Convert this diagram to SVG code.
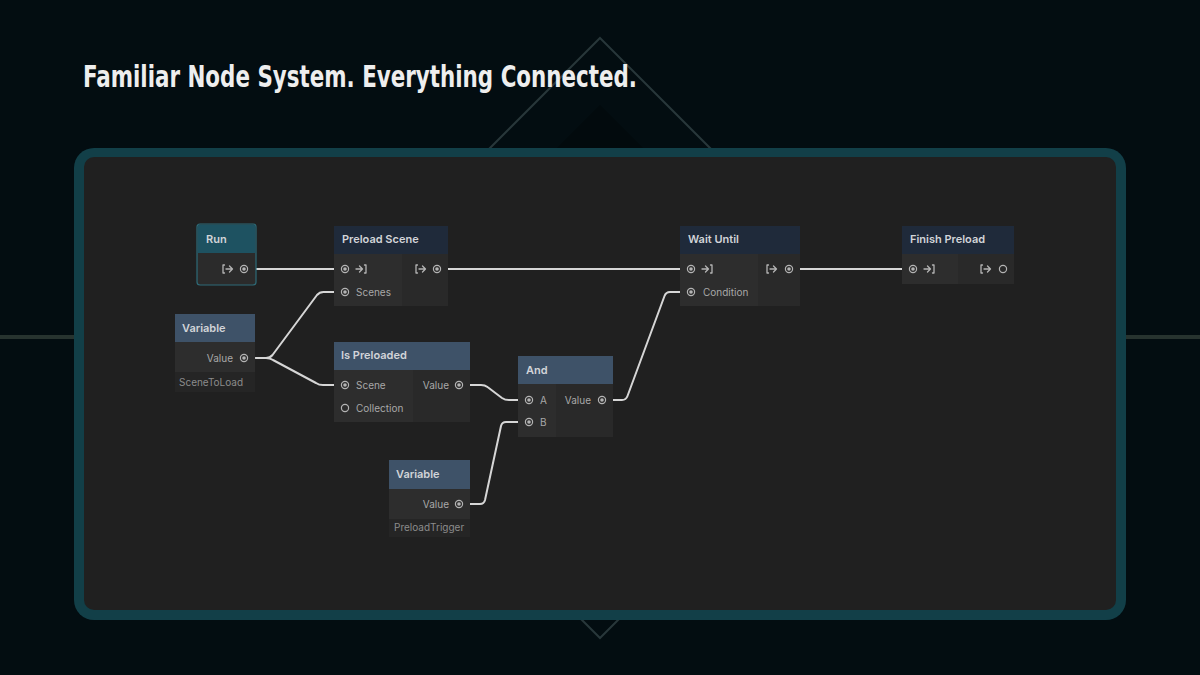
<svg xmlns="http://www.w3.org/2000/svg" xmlns:xlink="http://www.w3.org/1999/xlink" width="1200" height="675" viewBox="0 0 1200 675">
<style>
.title{font-family:"Liberation Sans Narrow","DejaVu Sans Condensed","Liberation Sans",sans-serif;font-weight:700;font-size:31px;fill:#eeeeee}
.hdr{font-family:Inter,"Noto Sans","Liberation Sans",sans-serif;font-weight:600;font-size:11px;fill:#d2d4d8}
.lbl{font-family:Inter,"Noto Sans","Liberation Sans",sans-serif;font-size:10px;fill:#a8a8a8}
.foot{font-family:Inter,"Noto Sans","Liberation Sans",sans-serif;font-size:10px;fill:#8c8c8c}
.end{text-anchor:end}
.navy{fill:#1f2a3a}
.steel{fill:#3e5268}
.colL{fill:#2d2d2d}
.colR{fill:#292929}
.footbg{fill:#252525}
.edge{fill:none;stroke:#d6d6d6;stroke-width:2;stroke-linecap:round;stroke-linejoin:round}
.ico{fill:none;stroke:#b4b4b4;stroke-width:1.3;stroke-linecap:round;stroke-linejoin:round}
</style>
<defs>
<g id="pin"><circle r="3.6" fill="none" stroke="#b4b4b4" stroke-width="1.2"/><circle r="1.8" fill="#b4b4b4"/></g>
<g id="pinHollow"><circle r="3.6" fill="none" stroke="#b4b4b4" stroke-width="1.2"/></g>
<g id="enter"><path class="ico" d="M-5 0H1.5M-1.5-3L1.5 0L-1.5 3M3.5-4H5V4H3.5"/></g>
<g id="exit"><path class="ico" d="M-3.5-4H-5V4H-3.5M-2 0H4.5M1.5-3L4.5 0L1.5 3"/></g>
</defs>

<!-- background -->
<rect width="1200" height="675" fill="#030d11"/>
<polygon points="600,105 833,338 600,571 367,338" fill="#020a0d"/>
<polygon points="600,38 900,338 600,638 300,338" fill="none" stroke="#28373a" stroke-width="2"/>
<rect x="0" y="335" width="1200" height="4" fill="#27332f"/>

<text class="title" x="83" y="87" textLength="554" lengthAdjust="spacingAndGlyphs">Familiar Node System. Everything Connected.</text>

<!-- panel -->
<rect x="74" y="148" width="1052" height="472" rx="20" fill="#123f48"/>
<rect x="84" y="157" width="1032" height="453" rx="10" fill="#202020"/>

<!-- connectors -->
<g id="connectors">
<path class="edge" d="M256 269H334"/>
<path class="edge" d="M448 269H680"/>
<path class="edge" d="M800 269H902"/>
<path class="edge" d="M256 358H266Q270 358 272.5 355L317 295Q319.5 292 323.5 292H334"/>
<path class="edge" d="M256 358H266Q270 358 273 360L316 383Q319 385 323 385H334"/>
<path class="edge" d="M470 385H481Q485 385 487.5 387L502 398Q505 400 509 400H518"/>
<path class="edge" d="M470 504H480Q484 504 485 500L501 426Q502 422 506 422H518"/>
<path class="edge" d="M613 400H622Q626 400 627.5 396L664.5 296Q666 292 670 292H680"/>
</g>

<!-- Run -->
<g id="node-run">
<rect x="197" y="224" width="59" height="61" rx="3" fill="#2b2b2b" stroke="#2e6b78" stroke-width="1.2"/>
<path d="M197.6 253V227Q197.6 224.6 200 224.6H253Q255.4 224.6 255.4 227V253Z" fill="#1e5261"/>
<text class="hdr" x="206" y="243">Run</text>
<use xlink:href="#exit" x="228" y="269"/>
<use xlink:href="#pin" x="244" y="269"/>
</g>

<!-- Preload Scene -->
<g id="node-preload-scene">
<rect x="334" y="226" width="114" height="28" class="navy"/>
<rect x="334" y="254" width="68" height="52" class="colL"/>
<rect x="402" y="254" width="46" height="52" class="colR"/>
<text class="hdr" x="342" y="243">Preload Scene</text>
<use xlink:href="#pin" x="345" y="269"/>
<use xlink:href="#enter" x="361" y="269"/>
<use xlink:href="#pin" x="345" y="292"/>
<text class="lbl" x="356" y="295.5">Scenes</text>
<use xlink:href="#exit" x="421" y="269"/>
<use xlink:href="#pin" x="437" y="269"/>
</g>

<!-- Variable SceneToLoad -->
<g id="node-variable-scene">
<rect x="175" y="314" width="80" height="28" class="steel"/>
<rect x="175" y="342" width="80" height="30" class="colL"/>
<rect x="175" y="372" width="80" height="20" class="footbg"/>
<text class="hdr" x="182" y="332">Variable</text>
<text class="lbl end" x="233" y="361.5">Value</text>
<use xlink:href="#pin" x="244" y="358"/>
<text class="foot" x="179" y="385.5">SceneToLoad</text>
</g>

<!-- Is Preloaded -->
<g id="node-is-preloaded">
<rect x="334" y="342" width="136" height="28" class="steel"/>
<rect x="334" y="370" width="79" height="52" class="colL"/>
<rect x="413" y="370" width="57" height="52" class="colR"/>
<text class="hdr" x="341" y="359">Is Preloaded</text>
<use xlink:href="#pin" x="345" y="385"/>
<text class="lbl" x="356" y="388.5">Scene</text>
<use xlink:href="#pinHollow" x="345" y="408"/>
<text class="lbl" x="356" y="411.5">Collection</text>
<text class="lbl end" x="449" y="388.5">Value</text>
<use xlink:href="#pin" x="459" y="385"/>
</g>

<!-- And -->
<g id="node-and">
<rect x="518" y="356" width="95" height="28" class="steel"/>
<rect x="518" y="384" width="38" height="53" class="colL"/>
<rect x="556" y="384" width="57" height="53" class="colR"/>
<text class="hdr" x="526" y="374">And</text>
<use xlink:href="#pin" x="529" y="400"/>
<text class="lbl" x="540" y="403.5">A</text>
<use xlink:href="#pin" x="529" y="422"/>
<text class="lbl" x="540" y="425.5">B</text>
<text class="lbl end" x="591" y="403.5">Value</text>
<use xlink:href="#pin" x="602" y="400"/>
</g>

<!-- Variable PreloadTrigger -->
<g id="node-variable-trigger">
<rect x="389" y="460" width="81" height="29" class="steel"/>
<rect x="389" y="489" width="81" height="30" class="colL"/>
<rect x="389" y="519" width="81" height="18" class="footbg"/>
<text class="hdr" x="396" y="478">Variable</text>
<text class="lbl end" x="449" y="507.5">Value</text>
<use xlink:href="#pin" x="459" y="504"/>
<text class="foot" x="394" y="531">PreloadTrigger</text>
</g>

<!-- Wait Until -->
<g id="node-wait-until">
<rect x="680" y="226" width="120" height="28" class="navy"/>
<rect x="680" y="254" width="78" height="52" class="colL"/>
<rect x="758" y="254" width="42" height="52" class="colR"/>
<text class="hdr" x="688" y="243">Wait Until</text>
<use xlink:href="#pin" x="691" y="269"/>
<use xlink:href="#enter" x="707" y="269"/>
<use xlink:href="#pin" x="691" y="292"/>
<text class="lbl" x="703" y="295.5">Condition</text>
<use xlink:href="#exit" x="772" y="269"/>
<use xlink:href="#pin" x="789" y="269"/>
</g>

<!-- Finish Preload -->
<g id="node-finish-preload">
<rect x="902" y="226" width="112" height="28" class="navy"/>
<rect x="902" y="254" width="56" height="30" class="colL"/>
<rect x="958" y="254" width="56" height="30" class="colR"/>
<text class="hdr" x="910" y="243">Finish Preload</text>
<use xlink:href="#pin" x="913" y="269"/>
<use xlink:href="#enter" x="929" y="269"/>
<use xlink:href="#exit" x="986" y="269"/>
<use xlink:href="#pinHollow" x="1003" y="269"/>
</g>
</svg>
